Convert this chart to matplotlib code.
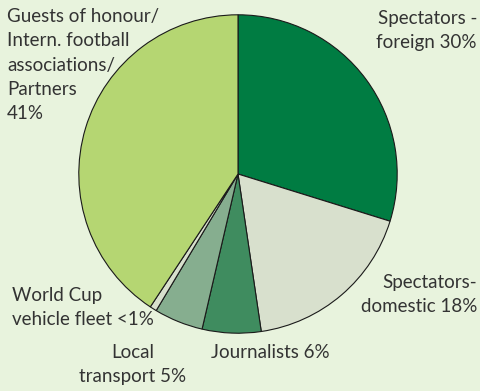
import matplotlib
matplotlib.use('Agg')
from matplotlib import pyplot as plt

# Share of trips by group (clockwise from 12 o'clock)
groups = ['Spectators - foreign', 'Spectators- domestic', 'Journalists',
          'Local transport', 'World Cup vehicle fleet',
          'Guests of honour/Intern. football associations/Partners']
shares = [30, 18, 6, 5, 0.7, 41]
colors = ['#007c42', '#d8e0cd', '#3f8c5f', '#86ae8f', '#d8e0cd', '#b5d672']

bg = '#e8f3dd'
txt = '#333333'

plt.rcParams['font.family'] = ['Lato', 'DejaVu Sans']

fig = plt.figure(figsize=(4.81, 3.91), dpi=100, facecolor=bg)
ax = fig.add_axes([78 / 481, (391 - 334) / 391, 320 / 481, 320 / 391])
ax.set_facecolor(bg)
ax.pie(shares, colors=colors, startangle=90, counterclock=False,
       wedgeprops=dict(edgecolor='#1a1a1a', linewidth=0.8))
ax.set_xlim(-1.005, 1.005)
ax.set_ylim(-1.005, 1.005)
ax.set_aspect('equal')
ax.axis('off')

fs = 13.5


def label(x, y, s, ha='left'):
    fig.text(x / 481, 1 - y / 391, s, ha=ha, va='top', fontsize=fs,
             color=txt, linespacing=1.52, multialignment=ha)


label(7, 8, 'Guests of honour/\nIntern. football\nassociations/\nPartners\n41%')
label(477, 10, 'Spectators -\nforeign 30%', ha='right')
label(477, 274, 'Spectators-\ndomestic 18%', ha='right')
label(270, 344, 'Journalists 6%', ha='center')
label(133, 344, 'Local\ntransport 5%', ha='center')
label(12, 287, 'World Cup\nvehicle fleet <1%')

plt.savefig('out.png', dpi=100, facecolor=bg)
